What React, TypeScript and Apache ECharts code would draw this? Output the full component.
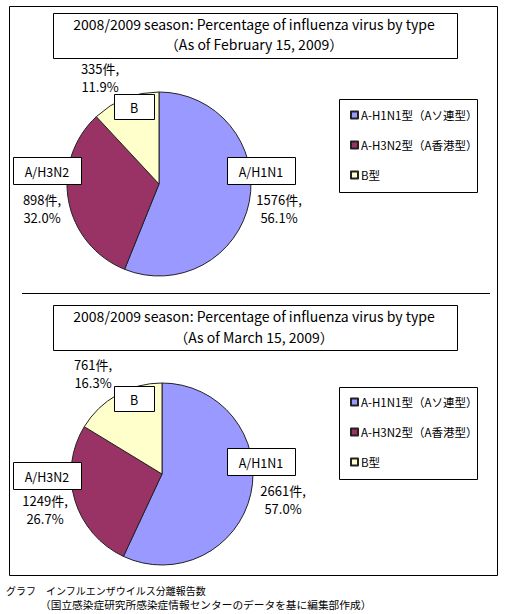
import React, { useEffect, useRef } from "react";
import * as echarts from "echarts";

const categories = ["A-H1N1型（Aソ連型）", "A-H3N2型（A香港型）", "B型"];
const shortNames = ["A/H1N1", "A/H3N2", "B"];
const colors = ["#9999FF", "#993366", "#FFFFCC"];
const febValues = [1576, 898, 335];
const marValues = [2661, 1249, 761];
const titleLine1 = "2008/2009 season: Percentage of influenza virus by type";
const febSubtitle = "（As of February 15, 2009）";
const marSubtitle = "（As of March 15, 2009）";
const footer1 = "グラフ　インフルエンザウイルス分離報告数";
const footer2 = "（国立感染症研究所感染症情報センターのデータを基に編集部作成）";

const FONT = "'Noto Sans CJK JP', 'Noto Sans', sans-serif";

type Panel = {
  values: number[];
  subtitle: string;
  dy: number;
  center: [number, number];
  radius: number;
  boxes: { x: number; y: number; w: number; h: number; vx: number; vy: number }[];
  legendTop: number;
  legendBox: { y: number; h: number };
};

const panels: Panel[] = [
  {
    values: febValues,
    subtitle: febSubtitle,
    dy: 0,
    center: [159, 184],
    radius: 92,
    boxes: [
      { x: 227, y: 157, w: 68, h: 27, vx: 279, vy: 199 },
      { x: 13, y: 157, w: 68, h: 27, vx: 42, vy: 199 },
      { x: 114, y: 94, w: 40, h: 25, vx: 100, vy: 68 },
    ],
    legendTop: 108,
    legendBox: { y: 99, h: 93 },
  },
  {
    values: marValues,
    subtitle: marSubtitle,
    dy: 292,
    center: [162, 474],
    radius: 91,
    boxes: [
      { x: 227, y: 448, w: 68, h: 27, vx: 283, vy: 490 },
      { x: 13, y: 462, w: 68, h: 27, vx: 45, vy: 500 },
      { x: 114, y: 386, w: 40, h: 25, vx: 93, vy: 364 },
    ],
    legendTop: 395,
    legendBox: { y: 387, h: 92 },
  },
];

export default function App() {
  const ref = useRef<HTMLDivElement>(null);
  useEffect(() => {
    document.body.style.margin = "0";
    if (!ref.current) return;
    const chart = echarts.init(ref.current, null, { renderer: "svg" });

    const graphics: any[] = [
      {
        type: "rect",
        shape: { x: 9.5, y: 6.5, width: 488, height: 569 },
        style: { fill: "#fff", stroke: "#000", lineWidth: 1 },
        z: 0,
      },
      {
        type: "line",
        shape: { x1: 22, y1: 293.5, x2: 490, y2: 293.5 },
        style: { stroke: "#000", lineWidth: 1 },
        z: 1,
      },
      {
        type: "text",
        x: 6,
        y: 590,
        style: { text: footer1, font: `10px ${FONT}`, fill: "#000", textVerticalAlign: "middle" },
      },
      {
        type: "text",
        x: 40,
        y: 604,
        style: { text: footer2, font: `10.7px ${FONT}`, fill: "#000", textVerticalAlign: "middle" },
      },
    ];

    const series: any[] = [];
    const legends: any[] = [];

    panels.forEach((p, pi) => {
      const total = p.values.reduce((a, b) => a + b, 0);
      graphics.push({
        type: "rect",
        shape: { x: 53.5, y: 13.5 + p.dy, width: 404, height: 45 },
        style: { fill: "#fff", stroke: "#000", lineWidth: 1 },
        z: 1,
      });
      graphics.push({
        type: "text",
        x: 254,
        y: 24 + p.dy,
        style: { text: titleLine1, font: `14px ${FONT}`, fill: "#000", textAlign: "center", textVerticalAlign: "middle" },
        z: 2,
      });
      graphics.push({
        type: "text",
        x: 254,
        y: 44 + p.dy + (pi === 1 ? 1 : 0),
        style: { text: p.subtitle, font: `14px ${FONT}`, fill: "#000", textAlign: "center", textVerticalAlign: "middle" },
        z: 2,
      });
      graphics.push({
        type: "rect",
        shape: { x: 339.5, y: p.legendBox.y + 0.5, width: 138, height: p.legendBox.h },
        style: { fill: "#fff", stroke: "#000", lineWidth: 1 },
        z: 1,
      });
      p.boxes.forEach((b, i) => {
        graphics.push({
          type: "rect",
          shape: { x: b.x + 0.5, y: b.y + 0.5, width: b.w, height: b.h },
          style: { fill: "#fff", stroke: "#000", lineWidth: 1 },
          z: 10,
        });
        graphics.push({
          type: "text",
          x: b.x + b.w / 2,
          y: b.y + b.h / 2 + 1,
          style: { text: shortNames[i], font: `12.5px ${FONT}`, fill: "#000", textAlign: "center", textVerticalAlign: "middle" },
          z: 11,
        });
        const pct = ((p.values[i] / total) * 100).toFixed(1) + "%";
        graphics.push({
          type: "text",
          x: b.vx,
          y: b.vy,
          style: { text: `${p.values[i]}件,`, font: `13px ${FONT}`, fill: "#000", textAlign: "center", textVerticalAlign: "middle" },
          z: 11,
        });
        graphics.push({
          type: "text",
          x: b.vx,
          y: b.vy + 18,
          style: { text: pct, font: `13px ${FONT}`, fill: "#000", textAlign: "center", textVerticalAlign: "middle" },
          z: 11,
        });
      });

      series.push({
        type: "pie",
        center: p.center,
        radius: p.radius,
        startAngle: 90,
        clockwise: true,
        label: { show: false },
        labelLine: { show: false },
        emphasis: { disabled: true },
        itemStyle: { borderColor: "#222", borderWidth: 1 },
        z: 5,
        data: categories.map((name, i) => ({
          name,
          value: p.values[i],
          itemStyle: { color: colors[i] },
        })),
      });

      legends.push({
        orient: "vertical",
        left: 350,
        top: p.legendTop,
        padding: 0,
        itemGap: 16,
        itemWidth: 7,
        itemHeight: 7,
        icon: "rect",
        selectedMode: false,
        z: 6,
        textStyle: { fontFamily: FONT, fontSize: 11.5, color: "#000", lineHeight: 14, padding: [0, 0, 0, -2] },
        data: categories,
      });
    });

    chart.setOption({
      animation: false,
      backgroundColor: "#fff",
      legend: legends,
      graphic: { elements: graphics },
      series,
    });
    return () => chart.dispose();
  }, []);
  return <div ref={ref} style={{ width: 510, height: 614 }} />;
}
